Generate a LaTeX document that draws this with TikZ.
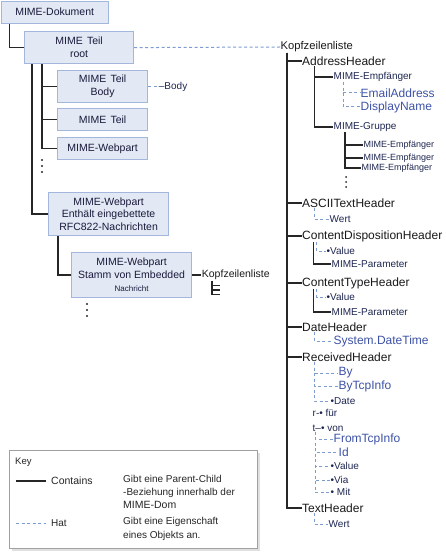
\documentclass[tikz,border=0pt]{standalone}
\usepackage{fontspec}
\setmainfont{Liberation Sans}
\usepackage{tikz}
\usetikzlibrary{positioning,calc}
\definecolor{mimeBox}{HTML}{E2E9F5}
\definecolor{mimeRand}{HTML}{A3B6DC}
\definecolor{mimeBlau}{HTML}{3D52A6}
\definecolor{mimeNavy}{HTML}{1E2650}
\definecolor{mimeText}{HTML}{1A1A3A}
\definecolor{mimeStrich}{HTML}{7D9CCF}
\definecolor{keyRand}{HTML}{A0A0A0}
\tikzset{
  teil/.style={draw=mimeRand, line width=1.2pt, fill=mimeBox, align=center, text=mimeText, font=\fontsize{10.5}{13}\selectfont, inner sep=0pt, anchor=north west},
  kopf/.style={anchor=west, inner sep=0.5pt, text=black!90, font=\fontsize{12}{14}\selectfont},
  unter/.style={anchor=west, inner sep=0.5pt, text=mimeNavy, font=\fontsize{10}{12}\selectfont},
  klein/.style={anchor=west, inner sep=0.5pt, text=mimeNavy, font=\fontsize{9}{11}\selectfont},
  prop/.style={anchor=west, inner sep=0.5pt, text=mimeBlau, font=\fontsize{12}{14}\selectfont},
  legende/.style={anchor=west, inner sep=0pt, text=black!85, font=\fontsize{10}{13}\selectfont},
  enthaelt/.style={line width=1.5pt, black!85},
  hat/.style={line width=1pt, mimeStrich, dash pattern=on 3pt off 2.5pt},
}

\begin{document}
\begin{tikzpicture}[x=1pt, y=-1pt]
\useasboundingbox (0,0) rectangle (446,553);

% MIME-Baum links
\node[teil, minimum width=107pt, minimum height=22pt] (doc) at (0.6,0.6) {MIME-Dokument};
\node[teil, minimum width=109pt, minimum height=32pt] (root) at (24,31) {MIME\hspace{0.4em}Teil\\root};
\node[teil, minimum width=90pt, minimum height=32pt] (body) at (57,70) {MIME\hspace{0.4em}Teil\\Body};
\node[teil, minimum width=90pt, minimum height=22pt] (teil3) at (57,108) {MIME\hspace{0.4em}Teil};
\node[teil, minimum width=90pt, minimum height=22pt] (web1) at (57,137) {MIME-Webpart};
\node[teil, minimum width=120pt, minimum height=43pt, font=\fontsize{10.5}{12.5}\selectfont] (web2) at (48,192) {MIME-Webpart\\Enthält eingebettete\\RFC822-Nachrichten};
\node[teil, minimum width=120pt, minimum height=45pt] (emb) at (71,252) {MIME-Webpart\\Stamm von Embedded\\{\fontsize{8}{9}\selectfont Nachricht}};

\node[unter, right=10pt of body] (bodyl) {--Body};
\node[unter, text=black!90, font=\fontsize{10.5}{12}\selectfont, right=9pt of emb] (kl2) {Kopfzeilenliste};

\draw[enthaelt] ([xshift=9pt]doc.south west) |- (root.west);
\draw[enthaelt] ([xshift=8pt]root.south west) |- (web2.west);
\foreach \n in {body,teil3,web1}
  \draw[enthaelt] ([xshift=18pt]root.south west) |- (\n.west);
\draw[enthaelt] ([xshift=10pt]web2.south west) |- (emb.west);
\draw[enthaelt] (emb.east) -- (kl2.west);
\draw[enthaelt, line width=1.6pt] ([xshift=11pt]kl2.south west) -- ++(0,14) -- ++(8,0)
  ++(-8,-4.5) -- ++(8,0) ++(-8,-4.5) -- ++(8,0);
\draw[hat] (body.east) -- (bodyl.west);
\foreach \y in {160,166,172} \fill[black!85] (42,\y) circle (1.1pt);
\foreach \y in {304,310,316} \fill[black!85] (87,\y) circle (1.1pt);

% Kopfzeilenliste rechts
\node[kopf, font=\fontsize{11.2}{13}\selectfont] (kl) at (280,47) {Kopfzeilenliste};
\draw[hat] (root.east) -- (kl.west);

\node[kopf] (ah) at (301.5,61) {AddressHeader};
\node[kopf] (at) at (301.5,203) {ASCIITextHeader};
\node[kopf] (cd) at (301.5,236) {ContentDispositionHeader};
\node[kopf] (ct) at (301.5,283) {ContentTypeHeader};
\node[kopf] (dh) at (301.5,327) {DateHeader};
\node[kopf] (rh) at (301.5,357) {ReceivedHeader};
\node[kopf] (th) at (301.5,508) {TextHeader};
\foreach \n in {ah,at,cd,ct,dh,rh,th}
  \draw[enthaelt] ([xshift=7pt]kl.south west) |- (\n.west);

% AddressHeader
\node[unter] (me1) at (333,77) {MIME-Empfänger};
\node[unter] (mg) at (333,127) {MIME-Gruppe};
\node[prop] (ea) at (360,93) {EmailAddress};
\node[prop] (dn) at (360,107) {DisplayName};
\node[klein] (e1) at (363,145) {MIME-Empfänger};
\node[klein] (e2) at (363,158) {MIME-Empfänger};
\node[klein] (e3) at (361,168) {MIME-Empfänger};
\foreach \n in {me1,mg}
  \draw[enthaelt] ([xshift=13pt]ah.south west) |- (\n.west);
\foreach \n in {ea,dn}
  \draw[hat] ([xshift=10pt]me1.south west) |- (\n.west);
\foreach \n in {e1,e2,e3}
  \draw[enthaelt] ([xshift=12pt]mg.south west) |- (\n.west);
\foreach \y in {177,182,187} \fill[black!85] (346,\y) circle (1pt);

% ASCIITextHeader, ContentDispositionHeader, ContentTypeHeader, DateHeader
\node[unter] (w1) at (329,219) {Wert};
\draw[hat] ([xshift=13pt]at.south west) |- (w1.west);
\node[unter] (v1) at (326,251) {•Value};
\node[unter] (mp1) at (331,264) {MIME-Parameter};
\draw[enthaelt] ([xshift=12pt]cd.south west) |- (mp1.west);
\draw[hat] ([xshift=15pt]cd.south west) |- (v1.west);
\node[unter] (v2) at (326,297) {•Value};
\node[unter] (mp2) at (331,312) {MIME-Parameter};
\draw[enthaelt] ([xshift=12pt]ct.south west) |- (mp2.west);
\draw[hat] ([xshift=15pt]ct.south west) |- (v2.west);
\node[prop] (sdt) at (333,341) {System.DateTime};
\draw[hat] ([xshift=13pt]dh.south west) |- (sdt.west);

% ReceivedHeader
\node[prop] (by) at (338,373) {By};
\node[prop] (bti) at (338,386) {ByTcpInfo};
\node[unter] (dt) at (330,401) {•Date};
\node[unter] (fuer) at (312,413) {r-• für};
\node[unter] (von) at (312,428) {t--• von};
\node[prop] (fti) at (333,439) {FromTcpInfo};
\node[prop] (id) at (338,452) {Id};
\node[unter] (val) at (330,466) {•Value};
\node[unter] (via) at (330,480) {•Via};
\node[unter] (mit) at (330,492) {• Mit};
\foreach \n in {by,bti,dt}
  \draw[hat] ([xshift=13pt]rh.south west) |- (\n.west);
\foreach \n in {fti,id,val,via,mit}
  \draw[hat] ([xshift=3pt]von.south west) |- (\n.west);

% TextHeader
\node[unter] (w2) at (328,524) {Wert};
\draw[hat] ([xshift=13pt]th.south west) |- (w2.west);

% Key
\fill[black!12] (11.5,452.5) rectangle (259.5,551);
\node[draw=keyRand, line width=1pt, fill=white, minimum width=248pt, minimum height=98pt, anchor=north west, inner sep=0pt] (key) at (9,450) {};
\node[legende, font=\fontsize{9.5}{11}\selectfont] (keyt) at (15,462) {Key};
\coordinate (c1) at (16,481);
\coordinate (c2) at (46,481);
\coordinate (h1) at (16,523);
\coordinate (h2) at (46,523);
\draw[enthaelt, line width=1.2pt] (c1) -- (c2);
\draw[hat] (h1) -- (h2);
\node[legende, font=\fontsize{10.5}{13}\selectfont, right=5pt of c2] (cont) {Contains};
\node[legende, right=5pt of h2] (hatl) {Hat};
\node[legende, anchor=north west, align=left] (cdesc) at (123,475) {Gibt eine Parent-Child\\-Beziehung innerhalb der\\{\fontsize{10.5}{13}\selectfont MIME-Dom}};
\node[legende, anchor=north west, align=left, font=\fontsize{10}{14}\selectfont] (hdesc) at (123,517) {Gibt eine Eigenschaft\\eines Objekts an.};
\end{tikzpicture}
\end{document}
